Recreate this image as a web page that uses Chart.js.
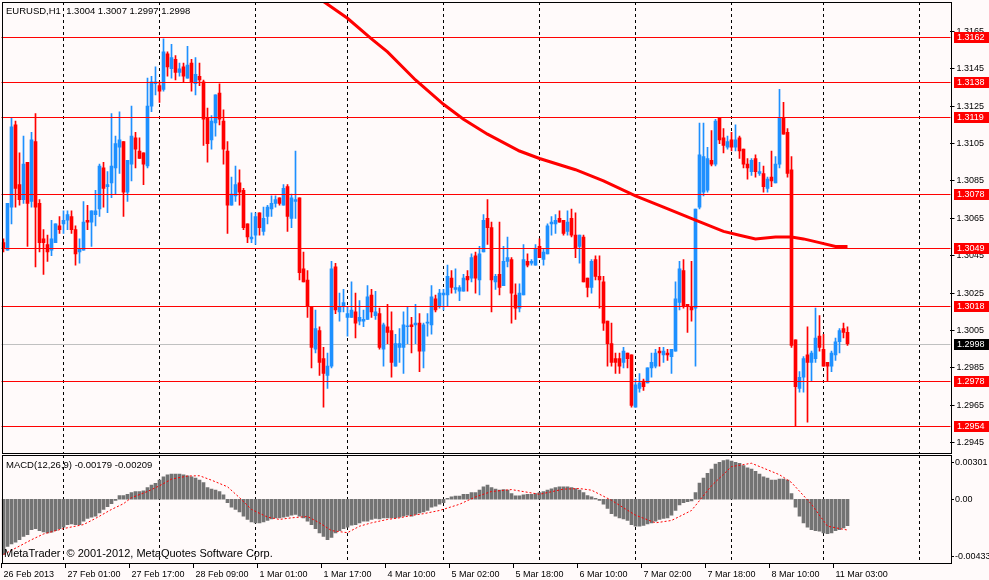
<!DOCTYPE html>
<html>
<head>
<meta charset="utf-8">
<title>EURUSD,H1</title>
<script src="https://cdn.jsdelivr.net/npm/chart.js@4.4.0/dist/chart.umd.min.js"></script>
<style>
  body { margin: 0; background: #fffafa; }
  #wrap { position: relative; width: 989px; height: 580px; overflow: hidden; background: #fffafa; }
  #priceChart { position: absolute; left: 0; top: 0; }
  #macdChart { position: absolute; left: 0; top: 455px; }
</style>
</head>
<body>
<div id="wrap">
  <canvas id="priceChart" width="989" height="455"></canvas>
  <canvas id="macdChart" width="989" height="125"></canvas>
</div>
<script>
// hourly bars, 26 Feb 2013 09:00 .. 11 Mar 2013 05:00
const opens = [
  1.3052,1.3048,1.3071,1.3115,1.3083,1.3075,1.3095,1.3074,1.3106,1.3073,
  1.3054,1.3051,1.3048,1.3052,1.3061,1.3062,1.3064,1.3066,1.3059,1.3047,
  1.3048,1.3064,1.3063,1.3067,1.3070,1.3092,1.3082,1.3084,1.3092,1.3103,
  1.3106,1.3079,1.3094,1.3108,1.3101,1.3100,1.3093,1.3125,1.3137,1.3136,
  1.3134,1.3153,1.3145,1.3150,1.3143,1.3146,1.3140,1.3148,1.3137,1.3141,
  1.3138,1.3119,1.3107,1.3116,1.3132,1.3117,1.3101,1.3072,1.3077,1.3084,
  1.3080,1.3062,1.3054,1.3056,1.3068,1.3058,1.3066,1.3070,1.3073,1.3076,
  1.3072,1.3082,1.3065,1.3074,1.3076,1.3038,1.3032,1.3018,1.2995,1.3005,
  1.2990,1.2981,1.2986,1.3039,1.3015,1.3018,1.3012,1.3012,1.3015,1.3010,
  1.3010,1.3011,1.3024,1.3013,1.3014,1.2995,1.3007,1.3005,1.2986,1.2996,
  1.2996,1.3007,1.3008,1.3008,1.3009,1.2994,1.3009,1.3008,1.3022,1.3018,
  1.3024,1.3024,1.3033,1.3027,1.3026,1.3026,1.3034,1.3033,1.3045,1.3032,
  1.3047,1.3065,1.3060,1.3031,1.3035,1.3029,1.3042,1.3043,1.3024,1.3017,
  1.3024,1.3042,1.3041,1.3040,1.3050,1.3043,1.3046,1.3062,1.3062,1.3065,
  1.3064,1.3058,1.3065,1.3056,1.3050,1.3055,1.3033,1.3028,1.3043,1.3034,
  1.3031,1.3010,1.2998,1.2990,1.2990,1.2988,1.2993,1.2992,1.2964,1.2974,
  1.2978,1.2977,1.2985,1.2986,1.2994,1.2992,1.2993,1.2991,1.2994,1.3020,
  1.3037,1.3019,1.3018,1.3017,1.3071,1.3079,1.3080,1.3096,1.3094,1.3119,
  1.3108,1.3103,1.3107,1.3103,1.3108,1.3102,1.3094,1.3090,1.3097,1.3089,
  1.3089,1.3081,1.3087,1.3084,1.3094,1.3119,1.3111,1.3091,1.3000,1.2974,
  1.2980,1.2992,1.2988,1.2990,1.3002,1.2995,1.2988,1.2986,1.2992,1.2999,
  1.3006,1.3004
];
const highs = [
  1.3054,1.3073,1.3119,1.3117,1.3100,1.3109,1.3095,1.3111,1.3121,1.3075,
  1.3059,1.3056,1.3064,1.3062,1.3066,1.3069,1.3069,1.3069,1.3061,1.3054,
  1.3074,1.3072,1.3069,1.3080,1.3094,1.3095,1.3090,1.3121,1.3109,1.3122,
  1.3106,1.3096,1.3125,1.3111,1.3108,1.3100,1.3140,1.3141,1.3146,1.3138,
  1.3161,1.3154,1.3158,1.3152,1.3148,1.3148,1.3157,1.3150,1.3151,1.3148,
  1.3139,1.3124,1.3120,1.3131,1.3137,1.3123,1.3106,1.3087,1.3093,1.3091,
  1.3081,1.3062,1.3068,1.3068,1.3068,1.3071,1.3072,1.3077,1.3077,1.3076,
  1.3083,1.3083,1.3078,1.3101,1.3076,1.3047,1.3037,1.3018,1.3016,1.3007,
  1.2996,1.2993,1.3042,1.3041,1.3025,1.3027,1.3018,1.3031,1.3025,1.3021,
  1.3016,1.3029,1.3027,1.3026,1.3017,1.3009,1.3019,1.3015,1.3003,1.3006,
  1.3015,1.3018,1.3012,1.3019,1.3014,1.3009,1.3014,1.3029,1.3024,1.3027,
  1.3027,1.3040,1.3037,1.3038,1.3029,1.3035,1.3037,1.3046,1.3047,1.3050,
  1.3067,1.3075,1.3063,1.3035,1.3063,1.3050,1.3055,1.3044,1.3030,1.3030,
  1.3051,1.3046,1.3043,1.3051,1.3054,1.3049,1.3062,1.3066,1.3067,1.3069,
  1.3064,1.3069,1.3070,1.3068,1.3056,1.3056,1.3033,1.3043,1.3045,1.3045,
  1.3034,1.3010,1.3009,1.2993,1.2993,1.2996,1.2993,1.2992,1.2979,1.2982,
  1.2979,1.2985,1.2993,1.2995,1.2996,1.2996,1.2995,1.2995,1.3031,1.3042,
  1.3043,1.3019,1.3042,1.3070,1.3116,1.3116,1.3103,1.3112,1.3118,1.3119,
  1.3113,1.3109,1.3111,1.3115,1.3109,1.3102,1.3097,1.3097,1.3099,1.3095,
  1.3093,1.3087,1.3101,1.3098,1.3134,1.3127,1.3113,1.3098,1.3000,1.2983,
  1.2991,1.3007,1.2994,1.3017,1.3013,1.3003,1.2988,1.2994,1.3001,1.3006,
  1.3009,1.3007
];
const lows = [
  1.3047,1.3048,1.3062,1.3071,1.3072,1.3073,1.3050,1.3071,1.3039,1.3047,
  1.3035,1.3042,1.3045,1.3052,1.3057,1.3057,1.3059,1.3057,1.3040,1.3041,
  1.3048,1.3059,1.3050,1.3061,1.3066,1.3071,1.3068,1.3076,1.3078,1.3089,
  1.3066,1.3074,1.3085,1.3092,1.3097,1.3083,1.3092,1.3122,1.3131,1.3127,
  1.3133,1.3141,1.3140,1.3139,1.3141,1.3138,1.3140,1.3133,1.3131,1.3136,
  1.3104,1.3095,1.3102,1.3109,1.3115,1.3094,1.3057,1.3072,1.3074,1.3072,
  1.3059,1.3052,1.3052,1.3051,1.3056,1.3056,1.3062,1.3066,1.3071,1.3072,
  1.3072,1.3058,1.3060,1.3065,1.3032,1.3031,1.3012,1.2985,1.2993,1.2981,
  1.2964,1.2974,1.2985,1.3014,1.3010,1.3015,1.3002,1.3012,1.3001,1.3008,
  1.3007,1.3011,1.3012,1.3011,1.2995,1.2986,1.2998,1.2980,1.2986,1.2988,
  1.2982,1.2998,1.2993,1.2998,1.2983,1.2985,1.3002,1.3003,1.3015,1.3017,
  1.3016,1.3018,1.3025,1.3025,1.3021,1.3026,1.3026,1.3031,1.3025,1.3024,
  1.3047,1.3051,1.3015,1.3027,1.3024,1.3029,1.3039,1.3009,1.3011,1.3015,
  1.3024,1.3039,1.3040,1.3040,1.3044,1.3040,1.3046,1.3056,1.3057,1.3063,
  1.3056,1.3056,1.3055,1.3044,1.3041,1.3031,1.3023,1.3025,1.3032,1.3017,
  1.3005,1.2986,1.2986,1.2982,1.2982,1.2985,1.2985,1.2964,1.2964,1.2972,
  1.2973,1.2977,1.2980,1.2985,1.2986,1.2988,1.2989,1.2982,1.2994,1.3016,
  1.3017,1.3004,1.3010,1.2986,1.3070,1.3077,1.3079,1.3093,1.3093,1.3105,
  1.3100,1.3102,1.3101,1.3101,1.3097,1.3092,1.3086,1.3088,1.3087,1.3088,
  1.3079,1.3079,1.3082,1.3084,1.3092,1.3110,1.3087,1.2996,1.2954,1.2972,
  1.2972,1.2956,1.2978,1.2988,1.2994,1.2986,1.2978,1.2983,1.2989,1.2993,
  1.3001,1.2997
];
const closes = [
  1.3049,1.3073,1.3114,1.3081,1.3075,1.3094,1.3073,1.3107,1.3071,1.3052,
  1.3052,1.3047,1.3054,1.3062,1.3059,1.3064,1.3067,1.3059,1.3046,1.3049,
  1.3063,1.3063,1.3069,1.3069,1.3093,1.3081,1.3083,1.3093,1.3105,1.3107,
  1.3079,1.3096,1.3109,1.3102,1.3097,1.3094,1.3125,1.3138,1.3138,1.3133,
  1.3154,1.3146,1.3151,1.3143,1.3145,1.3141,1.3147,1.3138,1.3142,1.3139,
  1.3118,1.3105,1.3117,1.3131,1.3118,1.3102,1.3072,1.3078,1.3083,1.3079,
  1.3060,1.3055,1.3055,1.3066,1.3060,1.3065,1.3071,1.3073,1.3075,1.3073,
  1.3081,1.3066,1.3076,1.3075,1.3036,1.3031,1.3018,1.2996,1.3006,1.2988,
  1.2982,1.2986,1.3038,1.3016,1.3018,1.3020,1.3014,1.3016,1.3009,1.3012,
  1.3011,1.3023,1.3015,1.3015,1.2996,1.3008,1.3004,1.2988,1.2998,1.2998,
  1.3008,1.3007,1.3007,1.3009,1.2994,1.3008,1.3009,1.3023,1.3016,1.3025,
  1.3025,1.3034,1.3028,1.3028,1.3028,1.3033,1.3032,1.3044,1.3033,1.3046,
  1.3064,1.3060,1.3032,1.3034,1.3028,1.3042,1.3044,1.3025,1.3017,1.3025,
  1.3043,1.3040,1.3042,1.3049,1.3044,1.3047,1.3061,1.3063,1.3064,1.3063,
  1.3057,1.3063,1.3056,1.3049,1.3056,1.3031,1.3028,1.3042,1.3034,1.3032,
  1.3009,1.2998,1.2988,1.2988,1.2986,1.2994,1.2990,1.2965,1.2976,1.2977,
  1.2975,1.2985,1.2988,1.2993,1.2993,1.2994,1.2992,1.2995,1.3022,1.3038,
  1.3018,1.3018,1.3016,1.3070,1.3099,1.3098,1.3097,1.3094,1.3117,1.3107,
  1.3104,1.3106,1.3103,1.3107,1.3101,1.3094,1.3092,1.3096,1.3090,1.3090,
  1.3082,1.3086,1.3085,1.3094,1.3119,1.3110,1.3089,1.2997,1.2975,1.2980,
  1.2990,1.2988,1.2993,1.3001,1.2996,1.2986,1.2986,1.2993,1.2999,1.3005,
  1.3004,1.2998
];

// moving average, read at a few bars (the line is drawn straight between them)
const maBars   = [72, 80, 86, 92, 96, 103, 110, 115, 121, 129, 134, 143, 150, 158, 165, 173, 180, 184, 188, 193, 197, 200, 204, 208, 211];
const maValues = [1.3193, 1.3181, 1.3172, 1.3161, 1.3154, 1.3139, 1.3126, 1.3118, 1.3110, 1.3101, 1.3097, 1.3091, 1.3085, 1.3077,
                  1.3071, 1.3064, 1.3058, 1.3056, 1.3054, 1.3055, 1.3055, 1.3054, 1.3052, 1.3050, 1.3050];

// MACD(12,26,9) main line (histogram)
const macdMain = [
  -0.00375,-0.00320,-0.00304,-0.00291,-0.00275,-0.00252,-0.00240,-0.00206,-0.00199,-0.00213,
  -0.00222,-0.00229,-0.00224,-0.00213,-0.00199,-0.00190,-0.00172,-0.00167,-0.00172,-0.00172,
  -0.00149,-0.00130,-0.00121,-0.00114,-0.00092,-0.00069,-0.00050,-0.00030,-0.00007,0.00025,
  0.00025,0.00034,0.00046,0.00053,0.00053,0.00057,0.00080,0.00096,0.00108,0.00130,
  0.00153,0.00167,0.00172,0.00172,0.00172,0.00167,0.00160,0.00153,0.00144,0.00130,
  0.00114,0.00080,0.00069,0.00062,0.00053,0.00030,-0.00023,-0.00053,-0.00069,-0.00085,
  -0.00114,-0.00137,-0.00153,-0.00160,-0.00160,-0.00153,-0.00144,-0.00133,-0.00126,-0.00126,
  -0.00121,-0.00117,-0.00108,-0.00103,-0.00114,-0.00126,-0.00149,-0.00172,-0.00199,-0.00229,
  -0.00252,-0.00275,-0.00259,-0.00229,-0.00213,-0.00199,-0.00190,-0.00176,-0.00172,-0.00160,
  -0.00149,-0.00149,-0.00137,-0.00130,-0.00133,-0.00126,-0.00126,-0.00126,-0.00126,-0.00121,
  -0.00114,-0.00108,-0.00114,-0.00103,-0.00092,-0.00085,-0.00076,-0.00053,-0.00046,-0.00034,
  -0.00023,0.00007,0.00016,0.00021,0.00021,0.00034,0.00034,0.00046,0.00046,0.00062,
  0.00085,0.00096,0.00080,0.00069,0.00062,0.00066,0.00062,0.00039,0.00023,0.00023,
  0.00030,0.00034,0.00034,0.00039,0.00046,0.00053,0.00062,0.00071,0.00080,0.00085,
  0.00085,0.00085,0.00080,0.00073,0.00062,0.00046,0.00025,0.00016,0.00007,-0.00007,
  -0.00034,-0.00062,-0.00098,-0.00114,-0.00126,-0.00133,-0.00144,-0.00172,-0.00183,-0.00183,
  -0.00178,-0.00167,-0.00160,-0.00149,-0.00137,-0.00130,-0.00126,-0.00108,-0.00076,-0.00039,
  -0.00023,-0.00016,-0.00011,0.00046,0.00110,0.00144,0.00176,0.00206,0.00240,0.00252,
  0.00263,0.00268,0.00259,0.00252,0.00245,0.00229,0.00213,0.00206,0.00190,0.00172,
  0.00153,0.00144,0.00130,0.00130,0.00137,0.00137,0.00130,0.00039,-0.00053,-0.00114,
  -0.00160,-0.00190,-0.00206,-0.00213,-0.00217,-0.00229,-0.00233,-0.00229,-0.00213,-0.00206,
  -0.00194,-0.00179
];
// signal line, read at a few bars
const signalBars   = [0, 7, 10, 15, 20, 23, 27, 30, 32, 36, 39, 42, 46, 49, 52, 56, 59, 62, 66, 69, 72, 76, 79, 82, 86, 89, 92,
                      96, 99, 102, 105, 109, 114, 118, 122, 127, 134, 140, 144, 147, 152, 158, 163, 167, 172, 177, 182, 187,
                      194, 197, 202, 206, 211];
const signalValues = [-0.00375,-0.00275,-0.00236,-0.00199,-0.00172,-0.00130,-0.00069,-0.00030,0.00011,0.00053,0.00092,
                      0.00137,0.00158,0.00160,0.00130,0.00085,0.00011,-0.00069,-0.00121,-0.00137,-0.00126,-0.00117,
                      -0.00160,-0.00213,-0.00227,-0.00183,-0.00160,-0.00137,-0.00126,-0.00110,-0.00098,-0.00076,
                      -0.00034,0.00016,0.00053,0.00066,0.00034,0.00069,0.00073,0.00062,-0.00007,-0.00108,-0.00160,
                      -0.00144,-0.00076,0.00092,0.00222,0.00245,0.00167,0.00114,-0.00034,-0.00183,-0.00209];

const tickLabels = ['26 Feb 2013', '27 Feb 01:00', '27 Feb 17:00', '28 Feb 09:00', '1 Mar 01:00', '1 Mar 17:00', '4 Mar 10:00',
                    '5 Mar 02:00', '5 Mar 18:00', '6 Mar 10:00', '7 Mar 02:00', '7 Mar 18:00', '8 Mar 10:00', '11 Mar 03:00'];
const tickEvery = 16;
const gridBars = [15, 39, 63, 86, 110, 134, 158, 182, 205, 229];
const priceTicks = [1.2945, 1.2965, 1.2985, 1.3005, 1.3025, 1.3045, 1.3065, 1.3085, 1.3105, 1.3125, 1.3145, 1.3165];
const levels = [1.3162, 1.3138, 1.3119, 1.3078, 1.3049, 1.3018, 1.2978, 1.2954];
const bidPrice = 1.2998;
const macdAxisValues = [0.00301, 0, -0.00433];
const macdAxisText = ['0.00301', '0.00', '-0.00433'];

const slotCount = 237;            // bars plus the empty space on the right
const FONT = '"Liberation Sans", Arial, sans-serif';
const BULL = '#1e90ff';
const BEAR = '#ff0000';

const slots = Array.from({ length: slotCount }, (_, i) => i);
const candleColors = closes.map((c, i) => (c >= opens[i] ? BULL : BEAR));
const maLine = new Array(slotCount).fill(null);
maBars.forEach((b, k) => { maLine[b] = maValues[k]; });
const signalLine = new Array(slotCount).fill(null);
signalBars.forEach((b, k) => { signalLine[b] = signalValues[k]; });

// keep the plot area exactly where the padding puts it
function fixAxis(width) {
  return scale => {
    if (width) scale.width = width;
    scale.paddingTop = 0;
    scale.paddingBottom = 0;
    scale.paddingLeft = 0;
    scale.paddingRight = 0;
  };
}

function dashedGrid(chart) {
  const { ctx, chartArea: a, scales: { x } } = chart;
  ctx.save();
  ctx.strokeStyle = '#000';
  ctx.lineWidth = 1;
  ctx.setLineDash([3, 3]);
  gridBars.forEach(b => {
    const px = Math.floor(x.getPixelForValue(b)) + 0.5;
    ctx.beginPath();
    ctx.moveTo(px, a.top);
    ctx.lineTo(px, a.bottom);
    ctx.stroke();
  });
  ctx.restore();
}

function frame(chart) {
  const { ctx, chartArea: a } = chart;
  const l = Math.round(a.left) + 0.5, r = Math.round(a.right) + 1.5;
  const t = Math.round(a.top) + 0.5, b = Math.round(a.bottom) + 0.5;
  ctx.save();
  ctx.strokeStyle = '#000';
  ctx.lineWidth = 1;
  ctx.strokeRect(l, t, r - l, b - t);
  ctx.restore();
}

const pricePlugin = {
  id: 'mtPrice',
  beforeDatasetsDraw(chart) {
    const { ctx, chartArea: a, scales: { y } } = chart;
    dashedGrid(chart);
    ctx.save();
    ctx.strokeStyle = '#c0c0c0';
    ctx.lineWidth = 1;
    const by = Math.round(y.getPixelForValue(bidPrice)) + 0.5;
    ctx.beginPath();
    ctx.moveTo(a.left, by);
    ctx.lineTo(a.right + 1, by);
    ctx.stroke();
    ctx.restore();
  },
  afterDatasetsDraw(chart) {
    const { ctx, chartArea: a, scales: { y } } = chart;
    ctx.save();
    ctx.strokeStyle = '#ff0000';
    ctx.lineWidth = 1;
    levels.forEach(v => {
      const py = Math.round(y.getPixelForValue(v)) + 0.5;
      ctx.beginPath();
      ctx.moveTo(a.left, py);
      ctx.lineTo(a.right + 1, py);
      ctx.stroke();
    });
    ctx.restore();
  },
  afterDraw(chart) {
    const { ctx, scales: { y } } = chart;
    frame(chart);
    ctx.save();
    ctx.font = '9.5px ' + FONT;
    ctx.textBaseline = 'middle';
    ctx.fillStyle = '#000';
    ctx.fillText('EURUSD,H1  1.3004 1.3007 1.2997 1.2998', 6, 11);
    // price labels of the level lines and of the bid line
    ctx.font = '9px ' + FONT;
    const tag = (v, bg) => {
      const py = Math.round(y.getPixelForValue(v));
      ctx.fillStyle = bg;
      ctx.fillRect(954, py - 5, 35, 11);
      ctx.fillStyle = '#fff';
      ctx.fillText(v.toFixed(4), 957, py + 0.5);
    };
    levels.forEach(v => tag(v, '#ff0000'));
    tag(bidPrice, '#000');
    ctx.restore();
  }
};

const macdPlugin = {
  id: 'mtMacd',
  beforeDatasetsDraw(chart) { dashedGrid(chart); },
  afterDraw(chart) {
    const { ctx, chartArea: a, scales: { y } } = chart;
    frame(chart);
    ctx.save();
    ctx.fillStyle = '#000';
    ctx.textBaseline = 'middle';
    ctx.font = '9.5px ' + FONT;
    ctx.fillText('MACD(12,26,9) -0.00179 -0.00209', 6, 10);
    ctx.font = '11px ' + FONT;
    ctx.fillText('MetaTrader  \u00a9 2001-2012, MetaQuotes Software Corp.', 4, 99);
    ctx.font = '9px ' + FONT;
    ctx.strokeStyle = '#000';
    ctx.lineWidth = 1;
    macdAxisValues.forEach((v, k) => {
      let py = y.getPixelForValue(v);
      py = Math.round(Math.min(Math.max(py, a.top + 7), a.bottom - 7));
      ctx.beginPath();
      ctx.moveTo(951, py + 0.5);
      ctx.lineTo(954, py + 0.5);
      ctx.stroke();
      ctx.fillText(macdAxisText[k], 955, py + 0.5);
    });
    ctx.restore();
  }
};

const priceChart = new Chart(document.getElementById('priceChart'), {
  type: 'bar',
  data: {
    labels: slots,
    datasets: [
      { type: 'line', label: 'MA', data: maLine, borderColor: '#ff0000', borderWidth: 3,
        pointRadius: 0, spanGaps: true, tension: 0, order: 0, clip: 0 },
      { label: 'Bodies', data: opens.map((o, i) => [o, closes[i]]), backgroundColor: candleColors,
        barThickness: 3, minBarLength: 1, grouped: false, order: 1 },
      { label: 'Wicks', data: lows.map((l, i) => [l, highs[i]]), backgroundColor: candleColors,
        barThickness: 1, grouped: false, order: 2 }
    ]
  },
  options: {
    responsive: false,
    animation: false,
    events: [],
    layout: { autoPadding: false, padding: { left: 1.5, top: 2, right: 0, bottom: 2 } },
    plugins: { legend: { display: false }, tooltip: { enabled: false } },
    scales: {
      x: { type: 'category', display: false, offset: true },
      y: {
        position: 'right',
        min: 1.29395,
        max: 1.31807,
        afterBuildTicks: scale => { scale.ticks = priceTicks.map(v => ({ value: v })); },
        afterFit: fixAxis(39.5),
        ticks: { color: '#000', font: { family: FONT, size: 9 }, padding: 2, callback: v => v.toFixed(4) },
        grid: { drawOnChartArea: false, color: '#000', tickLength: 5 },
        border: { display: false }
      }
    }
  },
  plugins: [pricePlugin]
});

const macdChart = new Chart(document.getElementById('macdChart'), {
  type: 'bar',
  data: {
    labels: slots,
    datasets: [
      { type: 'line', label: 'Signal', data: signalLine, borderColor: '#ff0000', borderWidth: 1, borderDash: [2, 2],
        pointRadius: 0, spanGaps: true, tension: 0, order: 0 },
      { label: 'MACD', data: macdMain, backgroundColor: '#737373', barThickness: 3, order: 1 }
    ]
  },
  options: {
    responsive: false,
    animation: false,
    events: [],
    layout: { autoPadding: false, padding: { left: 1.5, top: 0, right: 0, bottom: 0 } },
    plugins: { legend: { display: false }, tooltip: { enabled: false } },
    scales: {
      x: {
        type: 'category',
        offset: true,
        afterFit: scale => { fixAxis(0)(scale); scale.height = 17; },
        ticks: {
          autoSkip: false, maxRotation: 0, minRotation: 0, align: 'start', padding: 1,
          color: '#000', font: { family: FONT, size: 9 },
          callback: (v, i) => (i % tickEvery === 0 && tickLabels[i / tickEvery]) ? tickLabels[i / tickEvery] : ''
        },
        grid: {
          drawOnChartArea: false, tickLength: 5, offset: true,
          color: ctx => (ctx.index % tickEvery === 0 && ctx.index / tickEvery < tickLabels.length) ? '#000' : 'rgba(0,0,0,0)'
        },
        border: { display: false }
      },
      y: {
        position: 'right',
        min: -0.00433,
        max: 0.00301,
        afterFit: fixAxis(39.5),
        ticks: { display: false },
        grid: { display: false },
        border: { display: false }
      }
    }
  },
  plugins: [macdPlugin]
});
</script>
</body>
</html>
